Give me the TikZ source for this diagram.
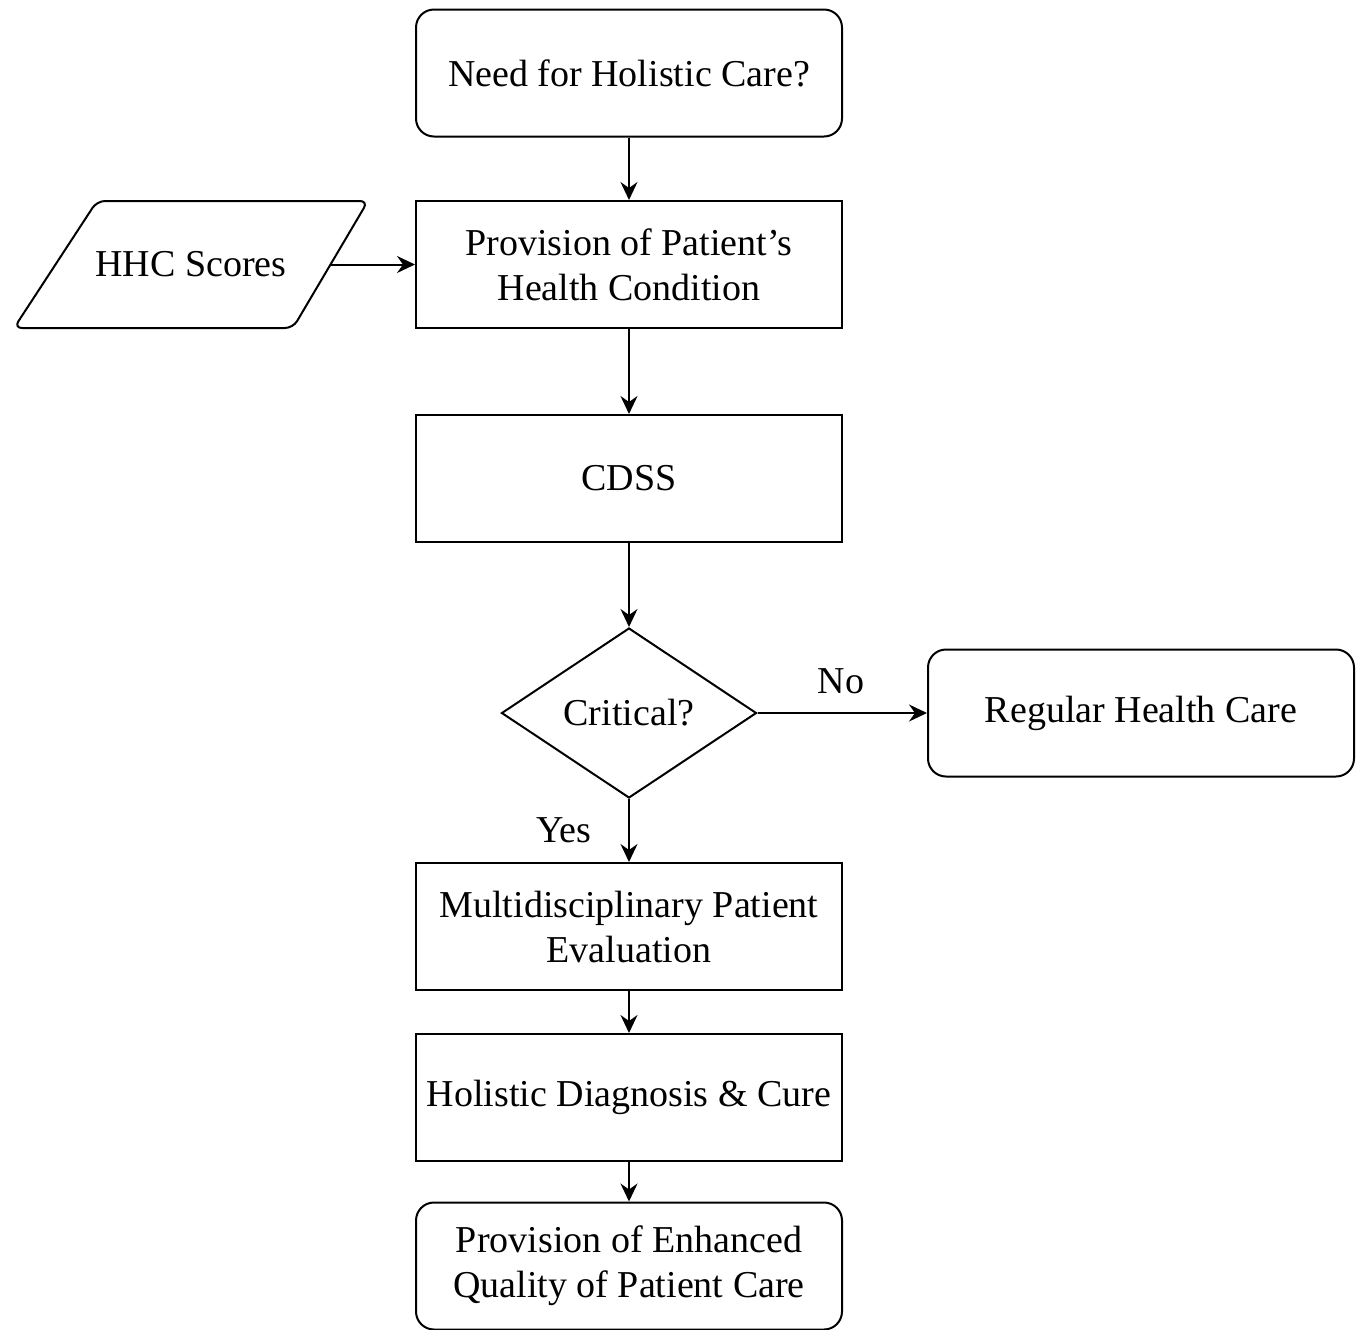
\documentclass[tikz,border=0pt]{standalone}
\usepackage{fontspec}
\setmainfont{Liberation Serif}
\usetikzlibrary{shapes.geometric,arrows.meta}
\begin{document}
\begin{tikzpicture}[x=0.5pt, y=-0.5pt, line width=1pt, >={Stealth[length=9pt,width=8.5pt,inset=3pt]},
  txt/.style={font=\fontsize{19}{22.5}\selectfont, align=center, inner sep=0pt},
  box/.style={txt, draw, minimum width=213pt, minimum height=63.5pt},
  roundbox/.style={box, rounded corners=9pt},
  decision/.style={txt, draw, diamond, minimum width=127.5pt, minimum height=85pt}]
\useasboundingbox (0,0) rectangle (1361,1329);

\node[roundbox] (need) at (629,73) {Need for Holistic Care?};
\node[box] (prov) at (629,264.5) {Provision of Patient’s\\Health Condition};
\node[txt] (hhc) at (191,264.5) {HHC Scores};
\draw[rounded corners=4pt] (97,201) -- (368,201) -- (293,328) -- (14,328) -- cycle;
\coordinate (hhcout) at (330.5,264.5);
\node[box] (cdss) at (629,478.5) {CDSS};
\node[decision] (crit) at (629,713) {Critical?};
\node[roundbox] (reg) at (1141,713) {\raisebox{-1.5pt}{Regular Health Care}};
\node[box] (multi) at (629,926.5) {Multidisciplinary Patient\\Evaluation};
\node[box] (holi) at (629,1097.5) {Holistic Diagnosis \& Cure};
\node[roundbox] (enh) at (629,1266) {Provision of Enhanced\\Quality of Patient Care};

\node[txt] (no) at (841,681) {No};
\node[txt] (yes) at (564,830) {Yes};

\draw [->] (need) -- (prov);
\draw [->] (hhcout) -- (prov);
\draw [->] (prov) -- (cdss);
\draw [->] (cdss) -- (crit);
\draw [->] (crit) -- (reg);
\draw [->] (crit) -- (multi);
\draw [->] (multi) -- (holi);
\draw [->] (holi) -- (enh);
\end{tikzpicture}
\end{document}
